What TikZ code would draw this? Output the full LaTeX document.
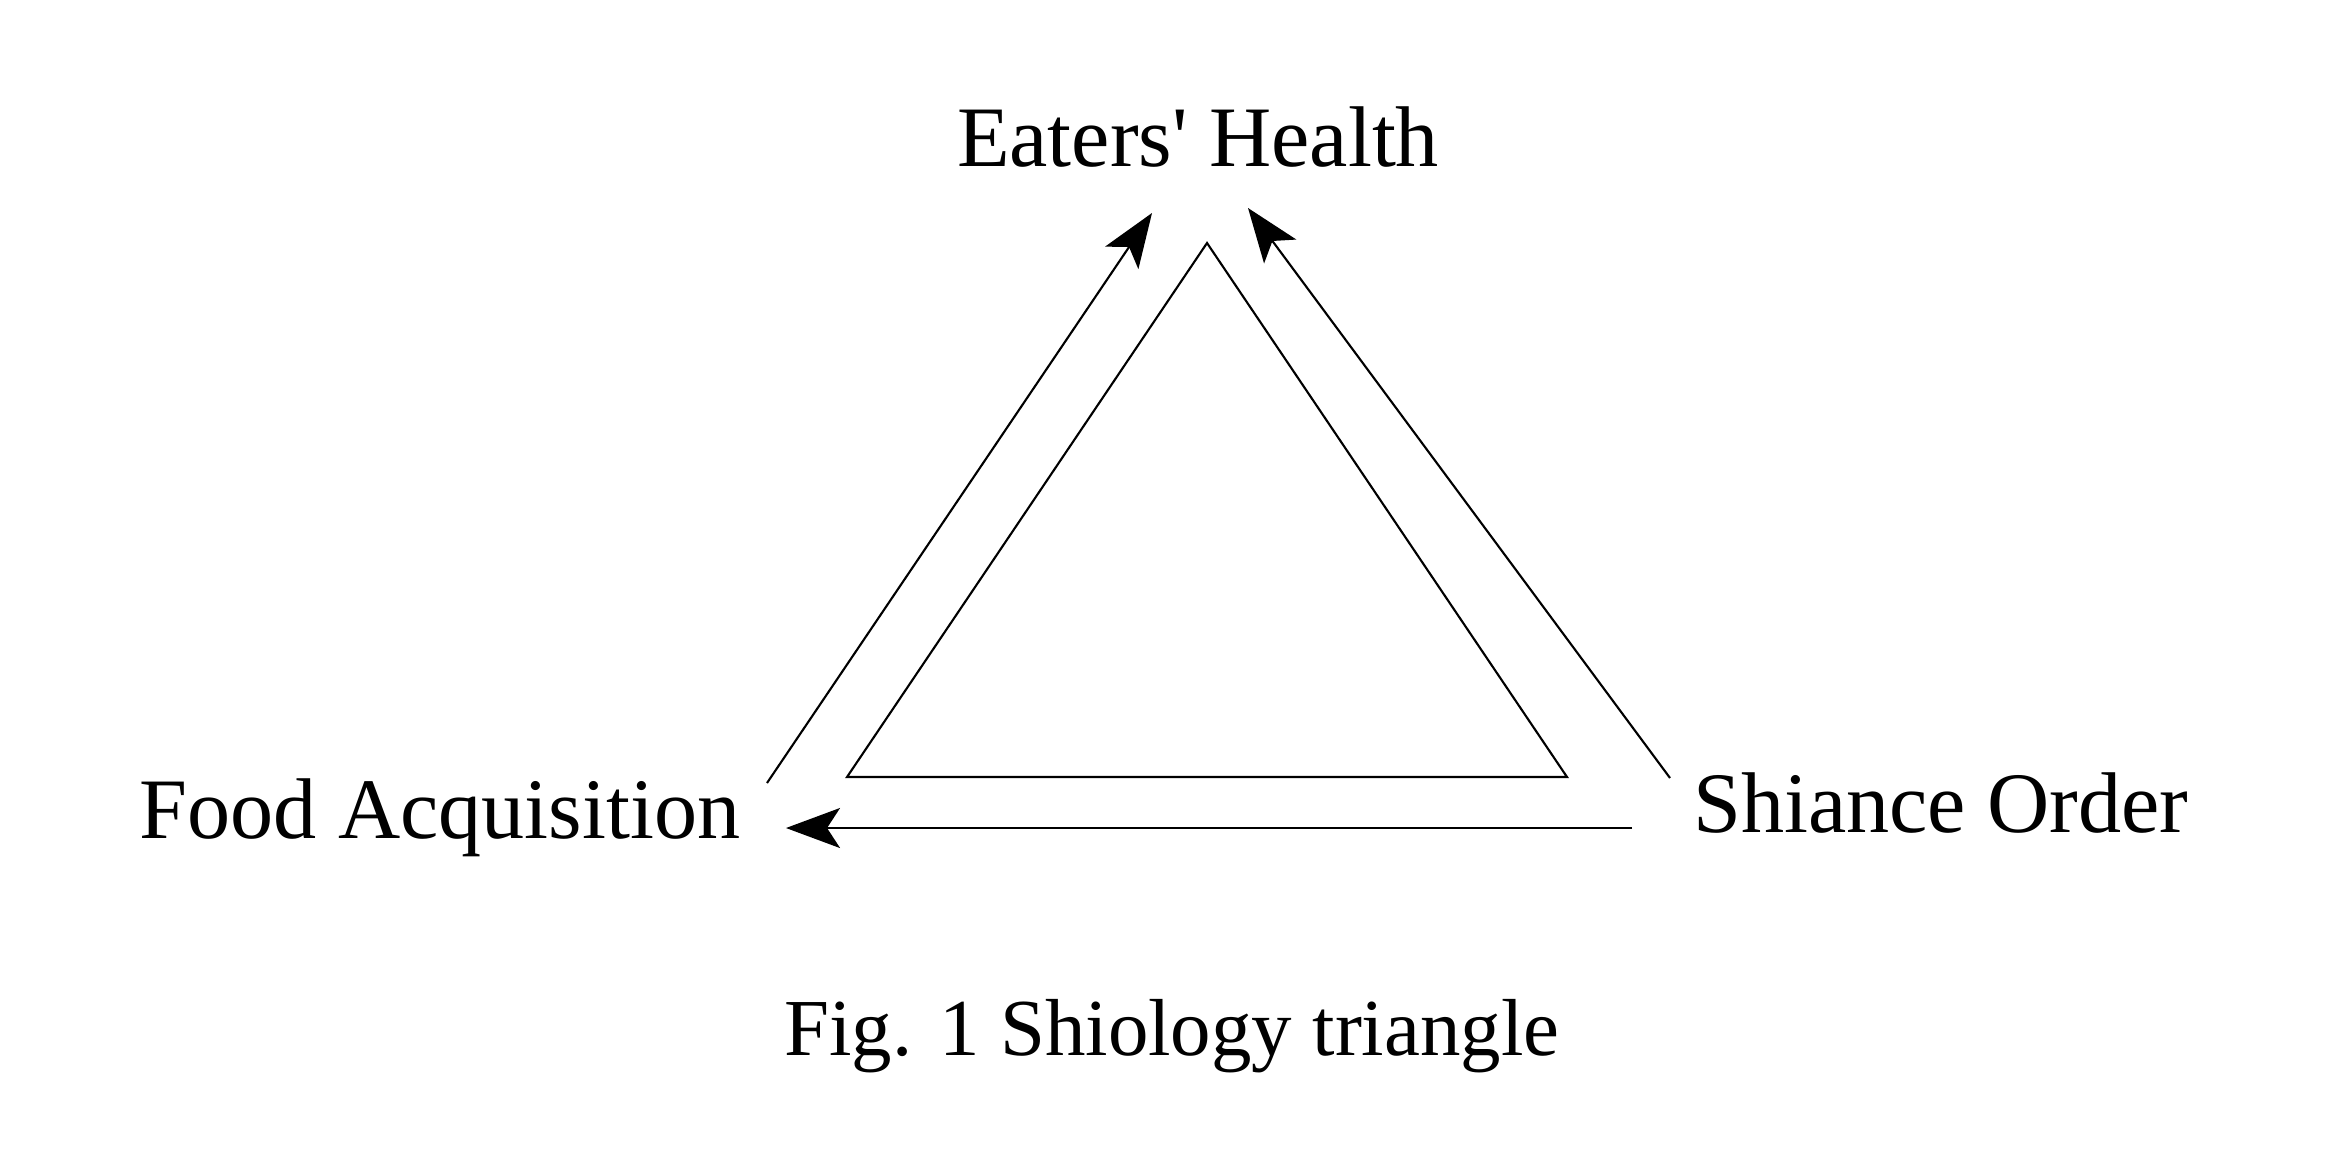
\documentclass[tikz,border=0pt]{standalone}
\usepackage{fontspec}
\setmainfont{Liberation Serif}
\usetikzlibrary{arrows.meta}
\begin{document}
\begin{tikzpicture}[x=0.01cm,y=-0.01cm,
  lbl/.style={inner sep=0pt,anchor=base,font=\fontsize{24.5}{29}\selectfont},
  caplbl/.style={inner sep=0pt,anchor=base,font=\fontsize{23}{28}\selectfont},
  edge/.style={line width=0.6pt,black},
  flow/.style={line width=0.6pt,black,-{Stealth[length=0.54cm,width=0.40cm,inset=0.13cm]}}]
\useasboundingbox[fill=white] (0,0) rectangle (2346,1160);
% labels
\node[lbl] (eh) at (1198,166) {Eaters\textquotesingle{} Health};
\node[lbl] (fa) at (440,838) {Food Acquisition};
\node[lbl] (so) at (1941,832) {Shiance Order};
\node[caplbl] (cap) at (1172,1055) {Fig. 1 Shiology triangle};
% triangle
\coordinate (top) at (1207,243);
\coordinate (bl) at (847,777);
\coordinate (br) at (1567,777);
\draw[edge,line join=miter] (top) -- (bl) -- (br) -- cycle;
% arrows
\coordinate (faS) at (767,783);
\coordinate (ehL) at (1152,213);
\coordinate (soS) at (1670,778);
\coordinate (ehR) at (1248,208);
\coordinate (soB) at (1632,828);
\coordinate (faB) at (786,828);
\draw[flow] (faS) -- (ehL);
\draw[flow] (soS) -- (ehR);
\draw[flow] (soB) -- (faB);
\end{tikzpicture}
\end{document}
